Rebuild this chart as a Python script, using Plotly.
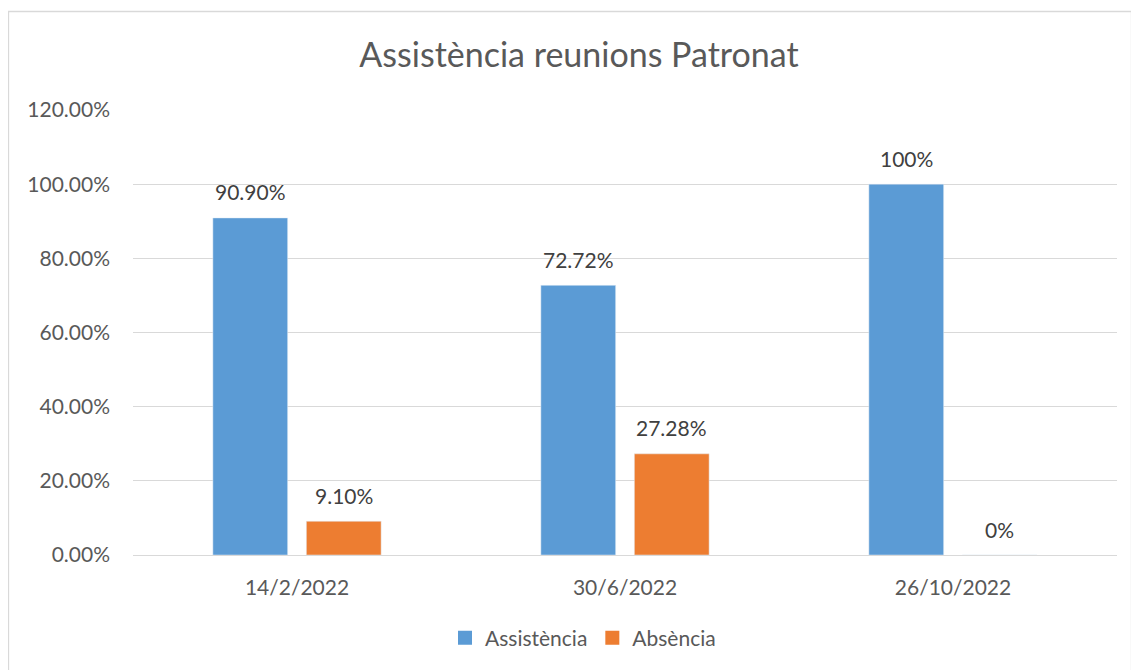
import plotly.graph_objects as go

categories = ["14/2/2022", "30/6/2022", "26/10/2022"]
assist_vals = [0.909, 0.7272, 1.0]
absen_vals = [0.091, 0.2728, 0.0]
assist_labels = ["90.90%", "72.72%", "100%"]
absen_labels = ["9.10%", "27.28%", "0%"]
ytick_vals = [0, 0.2, 0.4, 0.6, 0.8, 1.0, 1.2]
ytick_text = ["0.00%", "20.00%", "40.00%", "60.00%", "80.00%", "100.00%", "120.00%"]

BLUE = "#5B9BD5"
ORANGE = "#ED7D31"
TXT = "#595959"
FONT = "Lato, Carlito, Calibri, sans-serif"

fig = go.Figure()
fig.add_trace(go.Bar(name="Assistència", x=categories, y=assist_vals, marker_color=BLUE,
                     showlegend=False, legendgroup="a"))
fig.add_trace(go.Bar(name="Absència", x=categories, y=absen_vals, marker_color=ORANGE,
                     showlegend=False, legendgroup="b"))
# legend entries with larger square markers
fig.add_trace(go.Scatter(name="Assistència", x=[categories[0]], y=[None], mode="markers",
                         marker=dict(symbol="square", size=14, color=BLUE), legendgroup="a"))
fig.add_trace(go.Scatter(name="Absència", x=[categories[0]], y=[None], mode="markers",
                         marker=dict(symbol="square", size=14, color=ORANGE), legendgroup="b"))

# page body has an 8px margin: figure coords = reference px - 8
OFF = 8
W, H = 1139 - OFF, 670 - OFF
ml = 133 - OFF
mt = 110 - OFF
mr = W - (1117 - OFF)
mb = H - (555 - OFF)
pw = W - ml - mr
ph = H - mt - mb
bargap = 0.43
slot = pw / len(categories) * (1 - bargap) / 2

annotations = []
for i, c in enumerate(categories):
    for vals, labs, sh in ((assist_vals, assist_labels, -slot / 2), (absen_vals, absen_labels, slot / 2)):
        annotations.append(dict(x=c, y=vals[i], text=labs[i], showarrow=False,
                                xshift=sh, yshift=26, yanchor="middle",
                                font=dict(size=21, color="#404040", family=FONT)))

def px_to_paper_x(p):
    return (p - OFF - ml) / pw

def px_to_paper_y(p):
    return (H - mb - (p - OFF)) / ph

fig.update_layout(
    width=W, height=H,
    margin=dict(l=ml, r=mr, t=mt, b=mb),
    barmode="group", bargap=bargap, bargroupgap=0.2,
    paper_bgcolor="white", plot_bgcolor="white",
    font=dict(family=FONT, color=TXT, size=21),
    title=dict(text="Assistència reunions Patronat", x=(579 - OFF) / W, xanchor="center",
               xref="container", y=1 - (55 - OFF) / H, yanchor="middle", yref="container",
               font=dict(size=34, color=TXT, family=FONT)),
    xaxis=dict(showgrid=False, showline=False, ticks="", ticklabelstandoff=18,
               tickfont=dict(size=21, color=TXT)),
    yaxis=dict(range=[0, 1.2], tickvals=ytick_vals, ticktext=ytick_text,
               showgrid=True, gridcolor="#D9D9D9", gridwidth=1.3, zeroline=True,
               zerolinecolor="#D9D9D9", zerolinewidth=1.3, showline=False,
               ticks="", ticklabelstandoff=22, tickfont=dict(size=21, color=TXT)),
    legend=dict(orientation="h", xref="container", yref="container", x=(583 - OFF) / W, xanchor="center",
                y=1 - (638 - OFF) / H, yanchor="middle", font=dict(size=21, color=TXT),
                itemwidth=30, traceorder="normal"),
    annotations=annotations,
    shapes=[dict(type="rect", xref="paper", yref="paper",
                 x0=px_to_paper_x(8.5), x1=px_to_paper_x(1131.5),
                 y0=px_to_paper_y(672), y1=px_to_paper_y(11.5),
                 line=dict(color="#D9D9D9", width=1.3), fillcolor="rgba(0,0,0,0)", layer="below")],
)

fig.write_html("out.html")
